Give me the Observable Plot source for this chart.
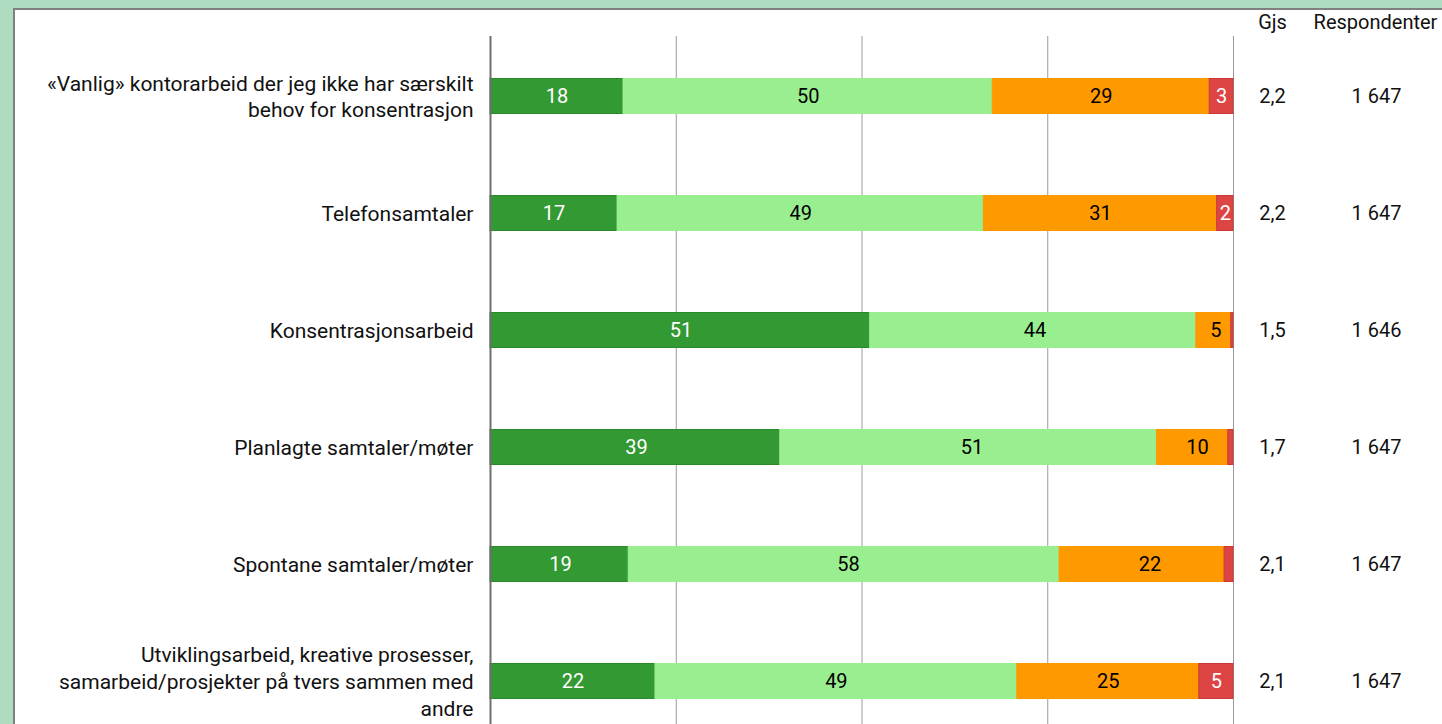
<!DOCTYPE html>
<html>
<head>
<meta charset="utf-8">
<script src="https://cdn.jsdelivr.net/npm/d3@7"></script>
<script src="https://cdn.jsdelivr.net/npm/@observablehq/plot@0.6"></script>
<style>
  html, body { margin: 0; padding: 0; width: 1442px; height: 724px; overflow: hidden; background: #afdcc1; font-family: Roboto, sans-serif; }
  #panel { position: absolute; left: 13px; top: 8px; width: 1500px; height: 800px; background: #fff; border: 2px solid #808080; }
  #chart { position: absolute; left: 0; top: 0; }
</style>
</head>
<body>
<div id="panel"></div>
<div id="chart"></div>
<script>
const categories = [
  "«Vanlig» kontorarbeid der jeg ikke har særskilt\nbehov for konsentrasjon",
  "Telefonsamtaler",
  "Konsentrasjonsarbeid",
  "Planlagte samtaler/møter",
  "Spontane samtaler/møter",
  "Utviklingsarbeid, kreative prosesser,\nsamarbeid/prosjekter på tvers sammen med\nandre"
];
const seriesNames = ["s1", "s2", "s3", "s4"];
const s1 = [17.9, 17.1, 51.1, 39.0, 18.6, 22.2];
const s2 = [49.7, 49.3, 43.9, 50.7, 58.0, 48.7];
const s3 = [29.2, 31.4, 4.7, 9.6, 22.2, 24.5];
const s4 = [3.2, 2.2, 0.3, 0.7, 1.2, 4.6];
const gjs = ["2,2", "2,2", "1,5", "1,7", "2,1", "2,1"];
const respondenter = ["1 647", "1 647", "1 646", "1 647", "1 647", "1 647"];
const xTicks = [0, 25, 50, 75, 100];

const fills = ["#339933", "#99ee90", "#ff9900", "#dd4444"];
const strokes = ["#2b882b", "#99ee90", "#ff9900", "#c83a3a"];
const textColors = ["white", "black", "black", "white"];
const seriesVals = [s1, s2, s3, s4];

const data = [];
categories.forEach((c, i) => {
  seriesVals.forEach((arr, k) => {
    data.push({cat: c, series: seriesNames[k], k, value: arr[i]});
  });
});

const W = 1442, H = 760;
const chart = Plot.plot({
  width: W,
  height: H,
  marginLeft: 490,
  marginRight: 209,
  marginTop: 36,
  marginBottom: 20,
  style: {fontFamily: "Roboto, sans-serif", fontSize: "20px", background: "transparent", overflow: "visible"},
  x: {domain: [0, 1], axis: null},
  y: {domain: categories, axis: null, paddingInner: 0.693, paddingOuter: 0.35},
  color: {domain: seriesNames, range: fills},
  marks: [
    Plot.ruleX(xTicks.slice(1).map(t => t / 100), {stroke: "#9a9a9a", strokeWidth: 1}),
    Plot.barX(data, Plot.stackX({
      y: "cat", x: "value", z: "series", order: seriesNames, offset: "normalize",
      fill: "series",
      stroke: d => strokes[d.k], strokeWidth: 1,
      insetTop: 0.5, insetBottom: 0.5
    })),
    Plot.text(data.filter(d => d.value >= 2), Plot.stackX({
      y: "cat", x: "value", z: "series", order: seriesNames, offset: "normalize",
      text: d => String(Math.round(d.value)),
      fill: d => textColors[d.k],
      fontSize: 20
    })),
    Plot.ruleX([0], {stroke: "#6e6e6e", strokeWidth: 2}),
    Plot.text(categories, {
      x: 0, y: d => d, text: d => d, textAnchor: "end", dx: -17, dy: -1,
      lineHeight: 1.27, fill: "#111", fontSize: 21
    }),
    Plot.text(categories, {
      x: 1, y: d => d, text: (d, i) => gjs[i], dx: 39, fill: "#111", fontSize: 20
    }),
    Plot.text(categories, {
      x: 1, y: d => d, text: (d, i) => respondenter[i], dx: 143, fill: "#111", fontSize: 20
    }),
    Plot.text(["Gjs"], {frameAnchor: "top", x: 1, text: d => d, dx: 39, dy: -22, fill: "#111", fontSize: 20}),
    Plot.text(["Respondenter"], {frameAnchor: "top", x: 1, text: d => d, dx: 142, dy: -22, fill: "#111", fontSize: 20})
  ]
});
document.getElementById("chart").appendChild(chart);
</script>
</body>
</html>
